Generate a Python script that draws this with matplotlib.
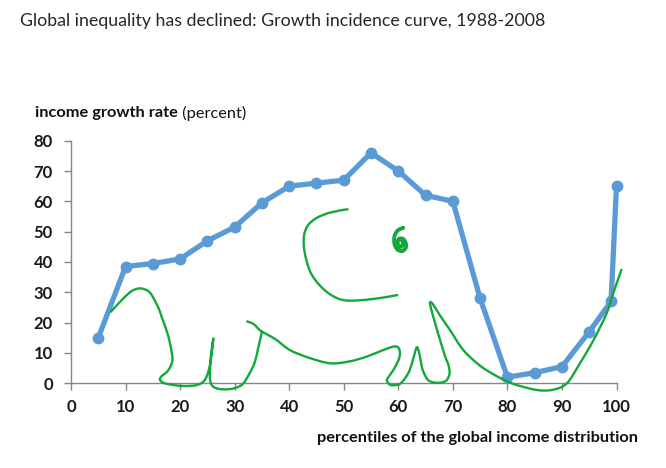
import matplotlib
matplotlib.use("Agg")
import matplotlib.pyplot as plt
import numpy as np
from matplotlib.path import Path
from matplotlib.patches import PathPatch

# ---- data ----
percentiles = [5, 10, 15, 20, 25, 30, 35, 40, 45, 50, 55, 60, 65, 70, 75, 80, 85, 90, 95, 99, 100]
growth = [15, 38.5, 39.5, 41, 47, 51.5, 59.5, 65, 66, 67, 76, 70, 62, 60, 28, 2, 3.5, 5.5, 17, 27, 65]
x_ticks = [0, 10, 20, 30, 40, 50, 60, 70, 80, 90, 100]
y_ticks = [0, 10, 20, 30, 40, 50, 60, 70, 80]

# hand-drawn elephant strokes (data coordinates)
trunk_x = [7.3, 9.6, 11.2, 12.65, 14.0, 14.8, 16.0, 16.6, 17.5, 18.15, 18.6, 18.3, 17.6, 16.6, 16.3, 16.9, 18.2,
           20.6, 23.0, 24.4, 25.2, 25.7, 26.1, 25.7, 25.5, 25.5, 26.0, 27.0, 28.5, 30.0, 31.5, 32.8, 33.7, 34.3, 35.0]
trunk_y = [23.6, 28.0, 30.5, 31.3, 30.6, 29.1, 25.0, 22.0, 17.5, 13.2, 8.2, 5.8, 3.8, 2.3, 1.2, 0.2, -0.4,
           -0.9, -0.6, 0.8, 4.0, 8.5, 14.8, 10.0, 5.0, 1.0, -1.0, -1.8, -2.0, -1.6, -0.2, 3.5, 7.0, 11.5, 17.0]
body_x = [32.3, 33.5, 34.8, 37.5, 40.1, 43.5, 47.5, 51.0, 54.2, 57.0, 59.1, 60.0, 60.3, 60.0, 59.1, 58.3, 57.9,
          58.5, 59.5, 60.3, 61.3, 62.1, 62.8, 63.4, 63.9, 64.3, 64.8, 65.5, 66.7, 68.0, 68.9, 69.4, 69.2, 68.6,
          67.7, 66.8, 66.1, 65.8, 66.3, 67.6, 69.5, 71.9, 75.0, 78.0, 81.1, 85.4, 88.4, 90.9, 93.3, 95.8, 98.2,
          99.4, 100.9]
body_y = [20.4, 19.5, 17.3, 14.5, 11.0, 8.5, 6.6, 7.2, 8.8, 10.8, 12.1, 11.8, 9.9, 7.5, 4.4, 2.3, 0.9,
          -0.5, -0.6, -0.2, 1.8, 4.4, 8.5, 11.9, 9.5, 5.5, 3.0, 1.0, 0.2, 0.3, 1.1, 3.3, 6.0, 8.8,
          14.0, 19.5, 24.0, 26.6, 26.2, 22.5, 17.5, 11.0, 5.8, 2.4, -0.2, -2.2, -2.1, 0.0, 6.6, 14.3, 23.1,
          29.7, 37.4]
ear_x = [50.7, 47.5, 45.0, 43.4, 42.7, 42.8, 43.8, 45.5, 47.8, 50.5, 55.4, 59.8]
ear_y = [57.4, 56.3, 54.5, 52.0, 48.5, 43.5, 37.0, 32.5, 29.0, 27.3, 27.8, 29.1]
eye_x = [60.9, 59.9, 59.3, 59.3, 59.8, 60.6, 61.3, 61.4, 60.9, 60.1, 59.9, 60.4, 60.9, 60.7]
eye_y = [51.3, 50.4, 48.5, 46.0, 44.2, 43.6, 44.4, 46.0, 47.6, 47.6, 46.0, 45.0, 45.8, 47.0]


def smooth_path(xs, ys):
    """Catmull-Rom through the given points, expressed as cubic Bezier segments."""
    p = np.column_stack([xs, ys]).astype(float)
    n = len(p)
    verts = [p[0]]
    codes = [Path.MOVETO]
    for i in range(n - 1):
        p0 = p[i - 1] if i > 0 else p[i]
        p1, p2 = p[i], p[i + 1]
        p3 = p[i + 2] if i + 2 < n else p[i + 1]
        verts += [p1 + (p2 - p0) / 6.0, p2 - (p3 - p1) / 6.0, p2]
        codes += [Path.CURVE4] * 3
    return Path(verts, codes)


# ---- figure ----
fig = plt.figure(figsize=(6.66, 4.68), dpi=100)
ax = fig.add_axes([71 / 666, 1 - 383.3 / 468, 545.5 / 666, 242.6 / 468])

ax.plot(percentiles, growth, color="#5B9BD5", lw=3.8, marker="o", ms=7.5,
        solid_joinstyle="round", zorder=3, clip_on=False)

green = "#14A83B"
for sx, sy, lw in [(trunk_x, trunk_y, 1.7), (body_x, body_y, 1.7), (ear_x, ear_y, 1.7), (eye_x, eye_y, 2.8)]:
    patch = PathPatch(smooth_path(sx, sy), facecolor="none", edgecolor=green, lw=lw,
                      joinstyle="round", capstyle="round", clip_on=False, zorder=4)
    ax.add_patch(patch)

ax.set_xlim(0, 100)
ax.set_ylim(0, 80)
ax.set_xticks(x_ticks)
ax.set_yticks(y_ticks)
tick_font = dict(family="Lato", weight="bold", size=12)
ax.set_xticklabels([str(v) for v in x_ticks], fontdict=tick_font)
ax.set_yticklabels([str(v) for v in y_ticks], fontdict=tick_font)
ax.tick_params(axis="both", direction="out", length=5, width=1, color="#868686", colors="#1a1a1a")
ax.tick_params(axis="y", pad=8)
ax.tick_params(axis="x", pad=6)
for s in ["top", "right"]:
    ax.spines[s].set_visible(False)
for s in ["left", "bottom"]:
    ax.spines[s].set_color("#868686")
    ax.spines[s].set_linewidth(1.0)

fig.text(20 / 666, 1 - 21 / 468, "Global inequality has declined: Growth incidence curve, 1988-2008",
         family="Lato", size=12.8, color="#262626", ha="left", va="center")

t1 = fig.text(35 / 666, 1 - 113 / 468, "income growth rate", family="Lato", weight="bold",
              size=11.8, color="#111111", ha="left", va="center")
ax.annotate(" (percent)", xy=(1, 0.5), xycoords=t1, family="Lato", size=11.8, color="#111111",
            ha="left", va="center", annotation_clip=False)

fig.text(638 / 666, 1 - 438 / 468, "percentiles of the global income distribution", family="Lato",
         weight="bold", size=11.8, color="#111111", ha="right", va="center")

fig.savefig("out.png", dpi=100)
